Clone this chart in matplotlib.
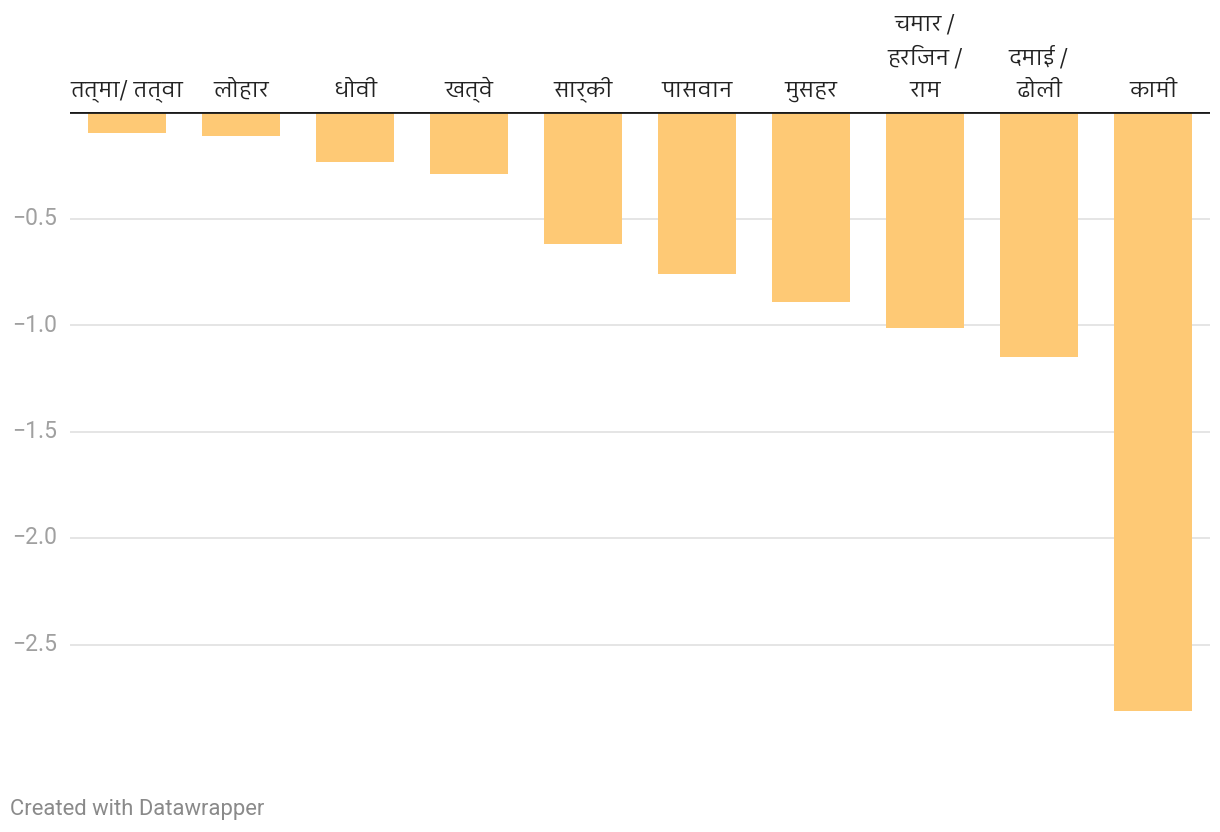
import numpy as np
import matplotlib
matplotlib.use("Agg")
import matplotlib.pyplot as plt
from matplotlib import font_manager
from matplotlib.ft2font import FT2Font

# Données
categories = ["तत्मा/ तत्वा", "लोहार", "धोवी", "खत्वे", "सार्की", "पासवान",
              "मुसहर", "चमार /\nहरिजन /\nराम", "दमाई /\nढोली", "कामी"]
values = [-0.10, -0.115, -0.235, -0.29, -0.62, -0.76, -0.89, -1.015, -1.15, -2.81]
yticks = [-0.5, -1.0, -1.5, -2.0, -2.5]

# Recherche d'une police (regular) avec des glyphes devanagari
best = None
for f in font_manager.fontManager.ttflist:
    try:
        if 0x0915 not in FT2Font(f.fname).get_charmap():
            continue
    except Exception:
        continue
    w = f.weight if isinstance(f.weight, int) else 400
    score = abs(w - 400) + (0 if f.style == "normal" else 1000) \
        + (0 if "Devanagari" in f.name else 50)
    if best is None or score < best[0]:
        best = (score, f)
if best:
    label_family = [best[1].name, "Roboto"]
    label_weight = best[1].weight
else:
    label_family = ["Roboto"]
    label_weight = "normal"

bar_color = "#fec975"

fig = plt.figure(figsize=(12.2, 8.32), dpi=100)
ax = fig.add_axes([70/1220, 1 - 751/832, 1140/1220, (751 - 112)/832])

x = np.arange(len(categories))
ax.bar(x, values, width=0.69, color=bar_color, zorder=2)

ax.set_xlim(-0.5, len(categories) - 0.5)
ax.set_ylim(-3.0, 0)

for t in yticks:
    ax.axhline(t, color="#e3e3e3", lw=1.3, zorder=1)
ax.axhline(0, color="#1a1a1a", lw=2, zorder=3)

for s in ax.spines.values():
    s.set_visible(False)
ax.set_xticks([])
ax.set_yticks([])

for t in yticks:
    ax.text(-58/1140, t, f"{t:.1f}".replace("-", "\u2212"), transform=ax.get_yaxis_transform(),
            ha="left", va="center", fontsize=16.5, color="#a0a0a0", family="Roboto")

for xi, lab in zip(x, categories):
    ax.annotate(lab, (xi, 0), xytext=(0, 10), textcoords="offset pixels",
                ha="center", va="bottom", fontsize=16.2, color="#222222",
                family=label_family, weight=label_weight, linespacing=1.6)

fig.text(10/1220, 1 - 809/832, "Created with Datawrapper", ha="left", va="center",
         fontsize=15.8, color="#8a8a8a", family="Roboto")

fig.savefig("out.png", dpi=100, facecolor="white")
